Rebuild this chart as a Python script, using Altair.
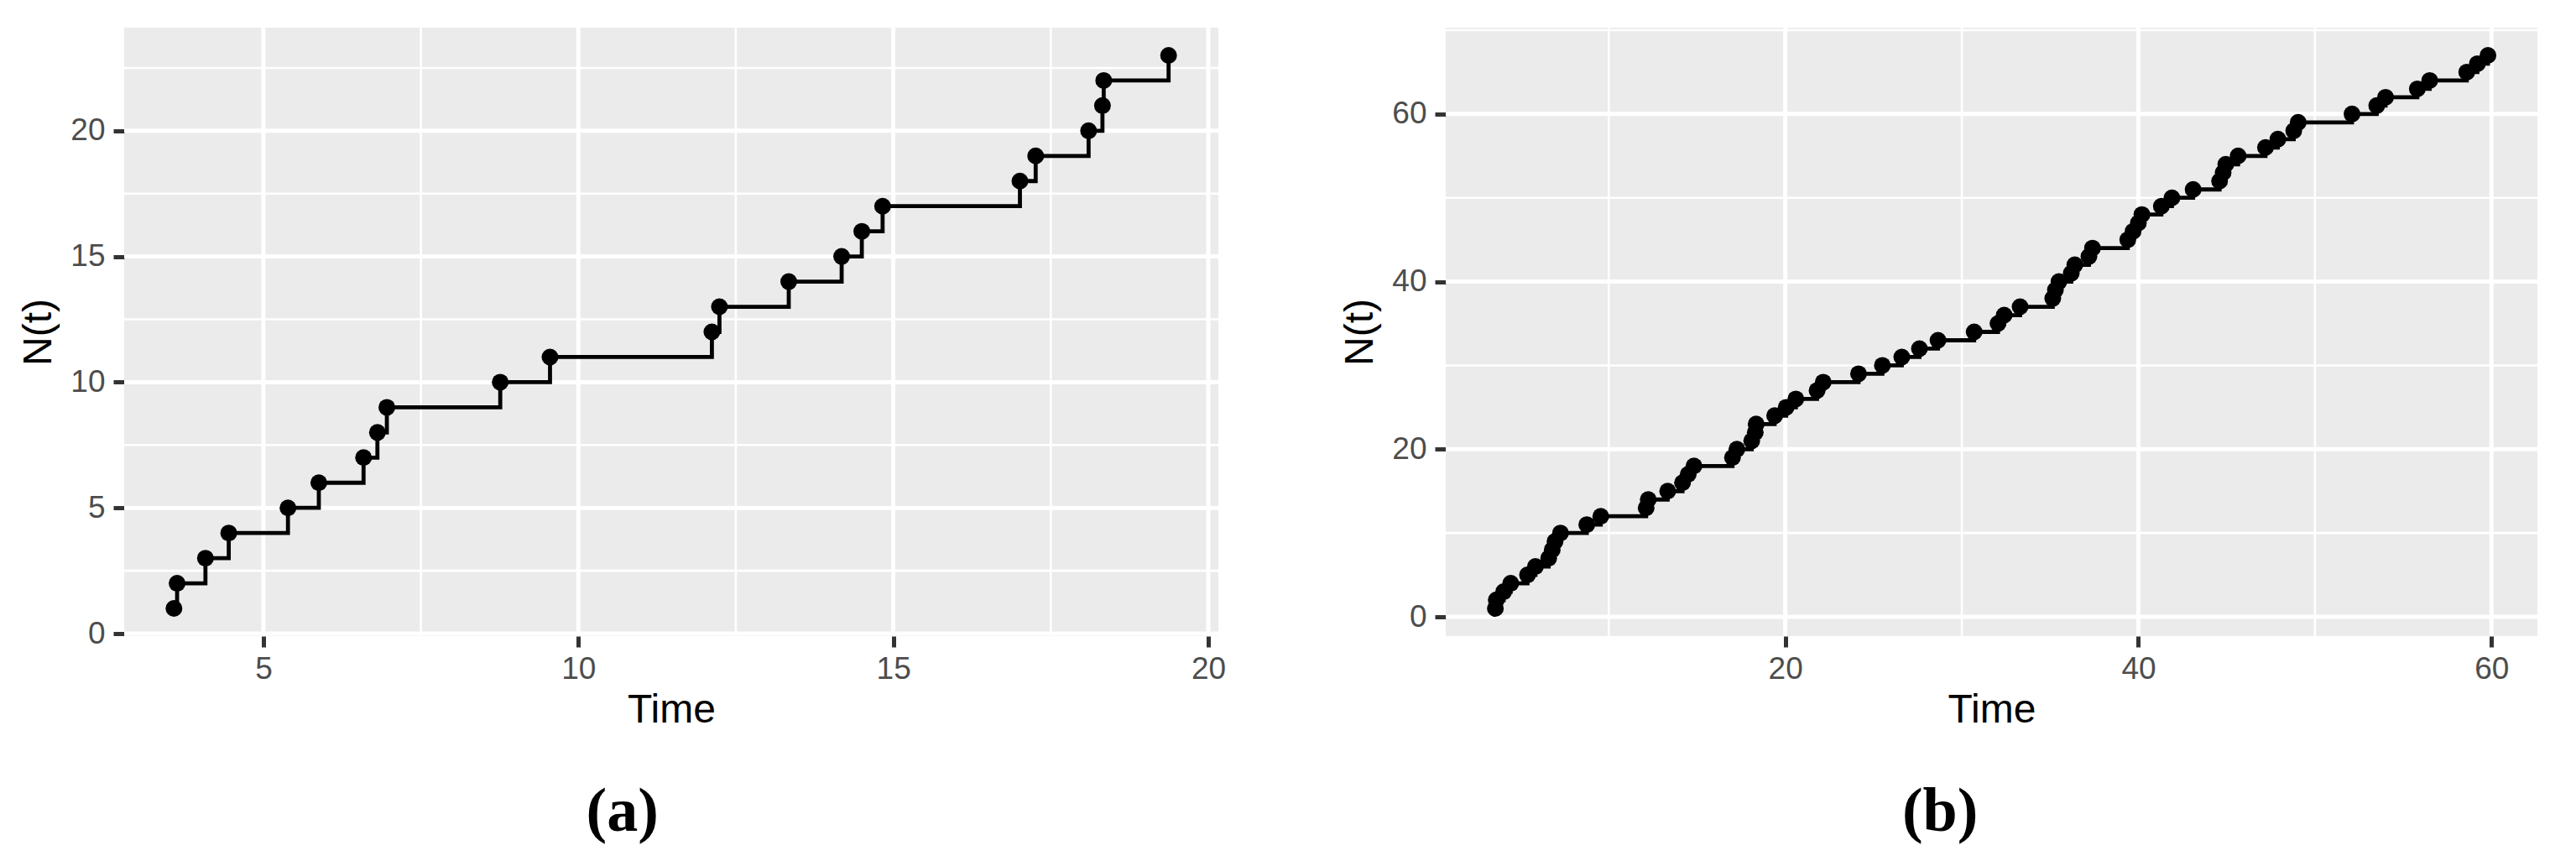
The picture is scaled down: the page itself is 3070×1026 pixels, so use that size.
import altair as alt
import pandas as pd

# ---------------- data: panel (a) ----------------
time_a = [3.58, 3.63, 4.08, 4.45, 5.39, 5.88, 6.59, 6.81, 6.96, 8.76, 9.55,
          12.12, 12.24, 13.34, 14.18, 14.50, 14.83, 17.01, 17.26, 18.10,
          18.32, 18.34, 19.37]
count_a = [1, 2, 3, 4, 5, 6, 7, 8, 9, 10, 11, 12, 13, 14, 15, 16, 17, 18, 19,
           20, 21, 22, 23]

# ---------------- data: panel (b) ----------------
time_b = [3.58, 3.63, 4.05, 4.45, 5.40, 5.85, 6.60, 6.80, 6.96, 7.27, 8.76,
          9.55, 12.12, 12.24, 13.34, 14.18, 14.50, 14.83, 17.01, 17.26, 18.10,
          18.30, 18.35, 19.40, 20.05, 20.60, 21.80, 22.15, 24.15, 25.50, 26.60,
          27.60, 28.65, 30.70, 32.05, 32.40, 33.30, 35.15, 35.30, 35.50, 36.20,
          36.40, 37.20, 37.40, 39.40, 39.70, 40.00, 40.20, 41.30, 41.90, 43.10,
          44.60, 44.80, 44.95, 45.65, 47.20, 47.90, 48.80, 49.05, 52.10, 53.50,
          54.00, 55.80, 56.50, 58.60, 59.20, 59.80]
count_b = [1, 2, 3, 4, 5, 6, 7, 8, 9, 10, 11, 12, 13, 14, 15, 16, 17, 18, 19,
           20, 21, 22, 23, 24, 25, 26, 27, 28, 29, 30, 31, 32, 33, 34, 35, 36,
           37, 38, 39, 40, 41, 42, 43, 44, 45, 46, 47, 48, 49, 50, 51, 52, 53,
           54, 55, 56, 57, 58, 59, 60, 61, 62, 63, 64, 65, 66, 67]

# axis breaks / grid positions
xmajor_a = [5, 10, 15, 20]
xminor_a = [7.5, 12.5, 17.5]
ymajor_a = [0, 5, 10, 15, 20]
yminor_a = [2.5, 7.5, 12.5, 17.5, 22.5]
xdom_a = [2.79, 20.16]
ydom_a = [-0.1, 24.1]

xmajor_b = [20, 40, 60]
xminor_b = [10, 30, 50]
ymajor_b = [0, 20, 40, 60]
yminor_b = [10, 30, 50, 70]
xdom_b = [0.77, 62.6]
ydom_b = [-2.3, 70.3]

AXIS_FONT = "Liberation Sans"


def panel(times, counts, xdom, ydom, xmaj, xmin, ymaj, ymin, W, H, label):
    xs = alt.Scale(domain=xdom, nice=False, zero=False)
    ys = alt.Scale(domain=ydom, nice=False, zero=False)
    common = dict(grid=False, domain=False, tickSize=13, tickWidth=5,
                  tickColor="#333333", labelFont=AXIS_FONT, labelFontSize=37,
                  labelColor="#4D4D4D", titleFont=AXIS_FONT,
                  titleFontSize=48, titleFontWeight="normal", titleColor="black")
    xaxis = alt.Axis(values=xmaj, title="Time", titlePadding=7,
                     labelPadding=8, **common)
    yaxis = alt.Axis(values=ymaj, title="N(t)", titlePadding=13,
                     labelPadding=10, **common)

    def X(f):
        return alt.X(f, type="quantitative", scale=xs, axis=xaxis)

    def Y(f):
        return alt.Y(f, type="quantitative", scale=ys, axis=yaxis)

    pts = pd.DataFrame({"Time": times, "N": counts})
    gx_min = alt.Chart(pd.DataFrame({"Time": xmin})).mark_rule(
        color="white", strokeWidth=2.6).encode(x=X("Time"))
    gy_min = alt.Chart(pd.DataFrame({"N": ymin})).mark_rule(
        color="white", strokeWidth=2.6).encode(y=Y("N"))
    gx_maj = alt.Chart(pd.DataFrame({"Time": xmaj})).mark_rule(
        color="white", strokeWidth=5).encode(x=X("Time"))
    gy_maj = alt.Chart(pd.DataFrame({"N": ymaj})).mark_rule(
        color="white", strokeWidth=5).encode(y=Y("N"))
    step = alt.Chart(pts).mark_line(
        interpolate="step-after", color="black", strokeWidth=4.8
    ).encode(x=X("Time"), y=Y("N"))
    dots = alt.Chart(pts).mark_circle(
        size=400, color="black", opacity=1
    ).encode(x=X("Time"), y=Y("N"))
    return alt.layer(gx_min, gy_min, gx_maj, gy_maj, step, dots).properties(
        width=W, height=H,
        title=alt.TitleParams(text=label, orient="bottom", anchor="middle",
                              frame="bounds", font="Liberation Serif",
                              fontSize=74, fontWeight="bold", color="black",
                              offset=62),
    )


pa = panel(time_a, count_a, xdom_a, ydom_a, xmajor_a, xminor_a, ymajor_a,
           yminor_a, 1304, 725, "(a)")
pb = panel(time_b, count_b, xdom_b, ydom_b, xmajor_b, xminor_b, ymajor_b,
           yminor_b, 1301, 725, "(b)")

chart = alt.hconcat(pa, pb, spacing=136).properties(
    padding={"left": 14, "top": 22, "right": 0, "bottom": 20},
    background="white",
).configure_view(fill="#EBEBEB", stroke=None)

chart.save("out.html", embed_options={"renderer": "svg", "actions": False})
